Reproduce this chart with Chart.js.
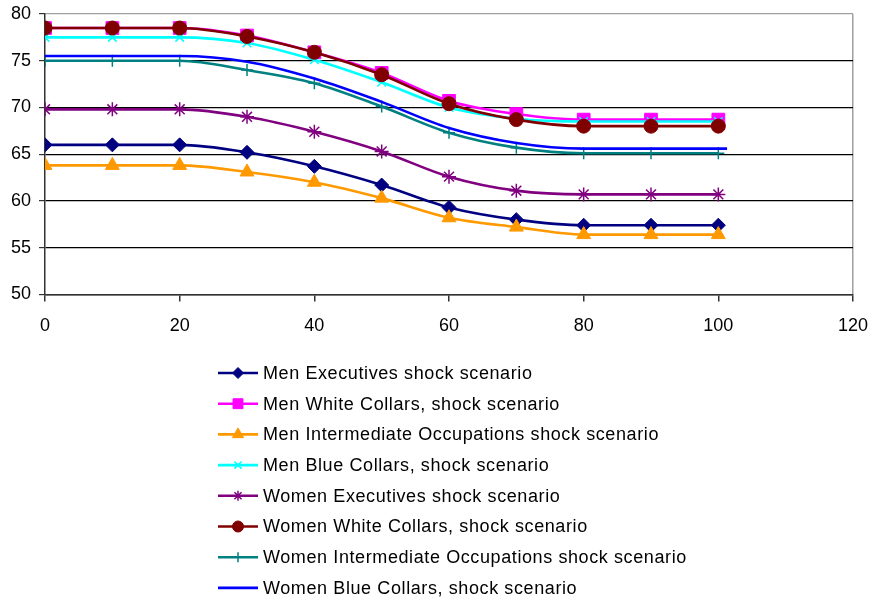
<!DOCTYPE html>
<html>
<head>
<meta charset="utf-8">
<script src="https://cdn.jsdelivr.net/npm/chart.js@4"></script>
<style>
  html, body { margin: 0; padding: 0; background: #fff; }
  #wrap { width: 872px; height: 603px; }
</style>
</head>
<body>
<div id="wrap"><canvas id="grafico"></canvas></div>
<script>
// dados
const idades = [0, 10, 20, 30, 40, 50, 60, 70, 80, 90, 100];
const idadesAzul = [0, 10, 20, 30, 40, 50, 60, 70, 80, 90, 100, 101.3];

const menExecutives     = [66.0, 66.0, 66.0, 65.2, 63.7, 61.7, 59.3, 58.0, 57.4, 57.4, 57.4];
const menWhiteCollars   = [78.5, 78.5, 78.5, 77.7, 75.9, 73.7, 70.7, 69.3, 68.7, 68.7, 68.7];
const menIntermediate   = [63.8, 63.8, 63.8, 63.1, 62.0, 60.3, 58.2, 57.2, 56.4, 56.4, 56.4];
const menBlueCollars    = [77.5, 77.5, 77.5, 76.9, 75.1, 72.7, 70.0, 68.8, 68.5, 68.5, 68.5];
const womenExecutives   = [69.8, 69.8, 69.8, 69.0, 67.4, 65.3, 62.6, 61.1, 60.7, 60.7, 60.7];
const womenWhiteCollars = [78.5, 78.5, 78.5, 77.6, 75.9, 73.5, 70.4, 68.7, 68.0, 68.0, 68.0];
const womenIntermediate = [75.0, 75.0, 75.0, 74.0, 72.6, 70.1, 67.3, 65.7, 65.1, 65.1, 65.1];
const womenBlueCollars  = [75.5, 75.5, 75.5, 74.9, 73.1, 70.6, 67.8, 66.2, 65.6, 65.6, 65.6, 65.6];

const yTicks = [50, 55, 60, 65, 70, 75, 80];
const xTicks = [0, 20, 40, 60, 80, 100, 120];

const FONTE = '"Liberation Sans", Arial, sans-serif';

function serie(label, xs, ys, cor, estilo, raio, bw) {
  return {
    label: label,
    data: xs.map((x, i) => ({ x: x, y: ys[i] })),
    borderColor: cor,
    backgroundColor: cor,
    pointBackgroundColor: cor,
    pointBorderColor: cor,
    pointStyle: estilo,
    pointRadius: estilo ? raio : 0,
    pointBorderWidth: bw || 1,
    borderWidth: 2.6,
    cubicInterpolationMode: "monotone",
    fill: false
  };
}

const datasets = [
  serie("Men Executives shock scenario", idades, menExecutives, "#000080", "rectRot", 7),
  serie("Men White Collars, shock scenario", idades, menWhiteCollars, "#FF00FF", "rect", 9),
  serie("Men Intermediate Occupations shock scenario", idades, menIntermediate, "#FF9900", "triangle", 8),
  serie("Men Blue Collars, shock scenario", idades, menBlueCollars, "#00FFFF", "crossRot", 6, 1.5),
  serie("Women Executives shock scenario", idades, womenExecutives, "#800080", "star", 7, 1.5),
  serie("Women White Collars, shock scenario", idades, womenWhiteCollars, "#800000", "circle", 7),
  serie("Women Intermediate Occupations shock scenario", idades, womenIntermediate, "#008080", "cross", 6, 1.5),
  serie("Women Blue Collars, shock scenario", idadesAzul, womenBlueCollars, "#0000FF", false, 0)
];
// como no Excel: a última série fica por cima
datasets.forEach((d, i) => { d.order = datasets.length - i; });

// legenda vertical desenhada no canvas
const legendaVertical = {
  id: "legendaVertical",
  afterDraw(chart) {
    const ctx = chart.ctx;
    const topo = 373, passo = 30.7, x0 = 218, x1 = 258, xt = 263;
    const raios = { rectRot: 5.5, rect: 7, triangle: 6.5, crossRot: 5, star: 5, circle: 5.5, cross: 5 };
    chart.data.datasets.forEach((ds, i) => {
      const y = topo + i * passo;
      ctx.save();
      ctx.strokeStyle = ds.borderColor;
      ctx.lineWidth = 2.6;
      ctx.beginPath();
      ctx.moveTo(x0, y);
      ctx.lineTo(x1, y);
      ctx.stroke();
      if (ds.pointStyle) {
        ctx.fillStyle = ds.borderColor;
        ctx.strokeStyle = ds.borderColor;
        ctx.lineWidth = ds.pointBorderWidth;
        Chart.helpers.drawPoint(ctx, {
          pointStyle: ds.pointStyle,
          radius: raios[ds.pointStyle] || 5,
          rotation: 0,
          borderWidth: ds.pointBorderWidth
        }, (x0 + x1) / 2, y);
      }
      ctx.fillStyle = "#000";
      ctx.font = "18px " + FONTE;
      ctx.letterSpacing = "0.6px";
      ctx.textBaseline = "middle";
      ctx.textAlign = "left";
      ctx.fillText(ds.label, xt, y + 1);
      ctx.restore();
    });
  }
};

// tira a folga automática dos rótulos nas pontas dos eixos
function semFolga(scale) {
  scale.paddingLeft = 0;
  scale.paddingRight = 0;
  scale.paddingTop = 0;
  scale.paddingBottom = 0;
}

const ctx = document.getElementById("grafico").getContext("2d");
new Chart(ctx, {
  type: "line",
  data: { datasets: datasets },
  plugins: [legendaVertical],
  options: {
    responsive: true,
    maintainAspectRatio: false,
    animation: false,
    events: [],
    layout: { padding: { left: 3, right: 19, top: 14, bottom: 252 } },
    plugins: {
      legend: { display: false },
      tooltip: { enabled: false }
    },
    scales: {
      x: {
        type: "linear",
        min: 0,
        max: 120,
        afterBuildTicks: axis => { axis.ticks = xTicks.map(v => ({ value: v })); },
        afterFit: semFolga,
        border: { color: "#333", width: 1.5 },
        grid: {
          color: c => (c.tick && c.tick.value === 120 ? "#a0a0a0" : "rgba(0,0,0,0)"),
          tickColor: "#333",
          tickLength: 7,
          lineWidth: 1.5
        },
        ticks: {
          color: "#000",
          padding: 14,
          maxRotation: 0,
          font: { family: FONTE, size: 18 }
        }
      },
      y: {
        min: 50,
        max: 80,
        afterBuildTicks: axis => { axis.ticks = yTicks.map(v => ({ value: v })); },
        afterFit: semFolga,
        border: { color: "#333", width: 1.5 },
        grid: {
          color: c => (c.tick && c.tick.value === 80 ? "#a0a0a0" : "#000"),
          tickColor: "#333",
          tickLength: 6,
          lineWidth: 1.2
        },
        ticks: {
          color: "#000",
          padding: 8,
          font: { family: FONTE, size: 18 }
        }
      }
    }
  }
});
</script>
</body>
</html>
